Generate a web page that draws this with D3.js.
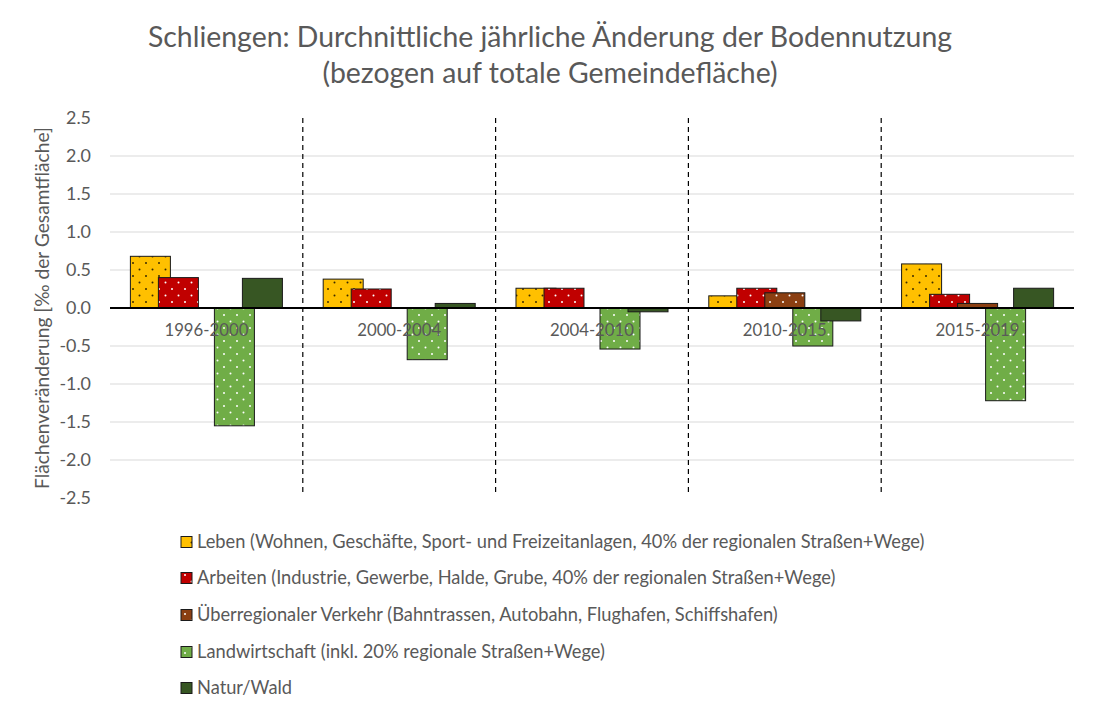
<!DOCTYPE html>
<html><head><meta charset="utf-8">
<script src="https://cdn.jsdelivr.net/npm/d3@7"></script>
<style>html,body{margin:0;padding:0;background:#fff;} svg{display:block;font-family:Lato,"Open Sans",sans-serif;}</style>
</head><body>
<svg id="chart" width="1100" height="718"></svg>
<script>
const categories = ["1996-2000","2000-2004","2004-2010","2010-2015","2015-2019"];
const leben = [0.68, 0.38, 0.26, 0.16, 0.58];
const arbeiten = [0.40, 0.25, 0.26, 0.26, 0.18];
const verkehr = [0.00, 0.00, 0.00, 0.20, 0.06];
const landwirtschaft = [-1.55, -0.68, -0.54, -0.50, -1.22];
const natur = [0.39, 0.06, -0.05, -0.17, 0.26];
const seriesNames = [
  "Leben (Wohnen, Geschäfte, Sport- und Freizeitanlagen, 40% der regionalen Straßen+Wege)",
  "Arbeiten (Industrie, Gewerbe, Halde, Grube, 40% der regionalen Straßen+Wege)",
  "Überregionaler Verkehr (Bahntrassen, Autobahn, Flughafen, Schiffshafen)",
  "Landwirtschaft (inkl. 20% regionale Straßen+Wege)",
  "Natur/Wald"
];
const yTicks = [2.5,2.0,1.5,1.0,0.5,0.0,-0.5,-1.0,-1.5,-2.0,-2.5];
const titleLines = ["Schliengen: Durchnittliche jährliche Änderung der Bodennutzung","(bezogen auf totale Gemeindefläche)"];
const yTitle = "Flächenveränderung [‰ der Gesamtfläche]";

const seriesValues = [leben, arbeiten, verkehr, landwirtschaft, natur];
const fills = ["#FFC000","#C00000","#8B3F12","#70AD47","#375623"];
const dotColors = ["#3a2a00","#ffffff","#ffffff","#ffffff",null];
const textColor = "#595959";
const FONT = 'Lato,"Open Sans",sans-serif';

const svg = d3.select("#chart");
const pLeft = 110, pRight = 1074, pTop = 118, pBottom = 498;

const y = d3.scaleLinear().domain([-2.5, 2.5]).range([pBottom, pTop]);
const x0 = d3.scaleBand().domain(categories).range([pLeft, pRight]).padding(0);

// patterns
const defs = svg.append("defs");
fills.forEach((f, i) => {
  const p = defs.append("pattern").attr("id", "pat" + i).attr("patternUnits", "userSpaceOnUse")
    .attr("width", 13).attr("height", 13);
  p.append("rect").attr("width", 13).attr("height", 13).attr("fill", f);
  if (dotColors[i]) {
    p.append("circle").attr("cx", 3).attr("cy", 3).attr("r", 1).attr("fill", dotColors[i]);
    p.append("circle").attr("cx", 9.5).attr("cy", 9.5).attr("r", 1).attr("fill", dotColors[i]);
  }
});

function fitWidth(sel, w) {
  const cur = sel.node().getComputedTextLength();
  const fs = parseFloat(sel.attr("font-size"));
  const nfs = fs * w / cur;
  sel.attr("font-size", nfs.toFixed(2));
  return nfs;
}

// gridlines
const gridTicks = yTicks.filter(t => Math.abs(t) < 2.5 && t !== 0);
svg.append("g").selectAll("line").data(gridTicks).join("line")
  .attr("x1", pLeft).attr("x2", pRight)
  .attr("y1", d => y(d)).attr("y2", d => y(d))
  .attr("stroke", "#d9d9d9").attr("stroke-width", 1);

// y tick labels
const yAxis = d3.axisLeft(y).tickValues(yTicks).tickFormat(d => d3.format(".1f")(d).replace("−", "-")).tickSize(0).tickPadding(19);
const yg = svg.append("g").attr("transform", `translate(${pLeft},0)`).call(yAxis);
yg.select(".domain").remove();
const yLabels = yg.selectAll("text").attr("fill", textColor).attr("font-size", 16).attr("font-family", FONT);
const refTick = yLabels.filter(d => d === 2.0);
const tickFs = fitWidth(refTick, 25);
yLabels.attr("font-size", tickFs.toFixed(2));

// dashed separators
svg.append("g").selectAll("line").data(categories.slice(1)).join("line")
  .attr("x1", d => x0(d)).attr("x2", d => x0(d))
  .attr("y1", pTop).attr("y2", pBottom - 3)
  .attr("stroke", "#000").attr("stroke-width", 1.2).attr("stroke-dasharray", "5,4");

// bars
const bw = x0.bandwidth() * 0.2075;
const step = bw * 0.7;
const span = 4 * step + bw;
seriesValues.forEach((vals, si) => {
  svg.append("g").selectAll("rect")
    .data(vals.map((v, ci) => ({v, c: categories[ci]})).filter(d => d.v !== 0))
    .join("rect")
    .attr("x", d => x0(d.c) + x0.bandwidth() / 2 - span / 2 + si * step)
    .attr("width", bw)
    .attr("y", d => y(Math.max(0, d.v)))
    .attr("height", d => Math.abs(y(d.v) - y(0)))
    .attr("fill", `url(#pat${si})`)
    .attr("stroke", "#1a1a1a").attr("stroke-width", 1);
});

// zero line
svg.append("line").attr("x1", pLeft).attr("x2", pRight).attr("y1", y(0)).attr("y2", y(0))
  .attr("stroke", "#000").attr("stroke-width", 2);

// category labels
const catTexts = categories.map(c => svg.append("text").attr("x", x0(c) + x0.bandwidth() / 2).attr("y", y(0) + 28)
    .attr("text-anchor", "middle").attr("fill", textColor).attr("font-size", 16).text(c));
const catFs = fitWidth(catTexts[0], 84);
catTexts.forEach(t => t.attr("font-size", catFs.toFixed(2)));

// title
const titleTexts = titleLines.map((l, i) => svg.append("text").attr("x", 550).attr("y", 47 + i * 36).attr("text-anchor", "middle")
    .attr("fill", textColor).attr("font-size", 26).text(l));
const tFs = fitWidth(titleTexts[0], 804);
titleTexts.forEach(t => t.attr("font-size", tFs.toFixed(2)));

// y title
const yt = svg.append("text").attr("transform", `translate(49,${(pTop + pBottom) / 2}) rotate(-90)`)
  .attr("text-anchor", "middle").attr("fill", textColor).attr("font-size", 16).text(yTitle);
fitWidth(yt, 362);

// legend
const legY = [542, 578, 615, 652, 688];
const legTexts = seriesNames.map((n, i) => {
  svg.append("rect").attr("x", 181).attr("y", legY[i] - 5.5).attr("width", 11).attr("height", 11)
    .attr("fill", `url(#pat${i})`).attr("stroke", "#1a1a1a").attr("stroke-width", 1);
  return svg.append("text").attr("x", 197).attr("y", legY[i]).attr("dy", "0.35em")
    .attr("fill", textColor).attr("font-size", 16).text(n);
});
const lFs = fitWidth(legTexts[0], 728);
legTexts.forEach(t => t.attr("font-size", lFs.toFixed(2)));
</script>
</body></html>
